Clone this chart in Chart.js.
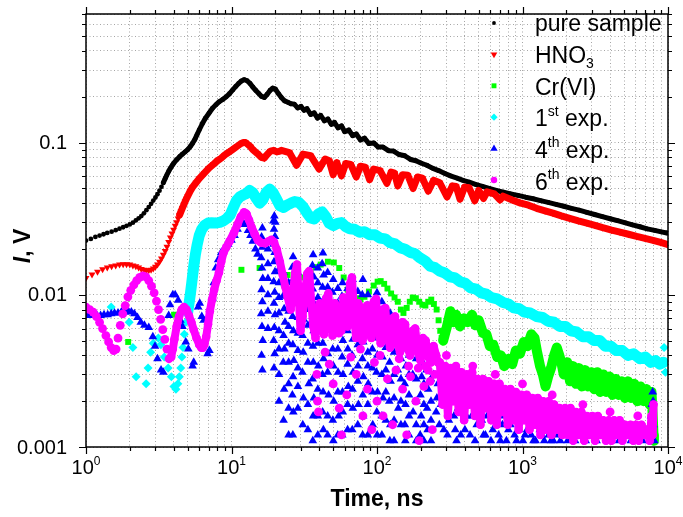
<!DOCTYPE html>
<html>
<head>
<meta charset="utf-8">
<title>Photoluminescence decay</title>
<script src="https://cdn.jsdelivr.net/npm/chart.js@4.4.1/dist/chart.umd.min.js"></script>
<style>
  html, body { margin: 0; padding: 0; background: #fff; }
  canvas { display: block; }
</style>
</head>
<body>
<canvas id="decayChart" width="683" height="517"></canvas>
<script>
// Decay curves, [time in ns, signal in V]

const pureSample = [
  [1, 0.0227], [1.08, 0.0233], [1.16, 0.0240], [1.24, 0.0245], [1.32, 0.0250], [1.4, 0.0255], [1.5, 0.0260],
  [1.6, 0.0266], [1.7, 0.0272], [1.8, 0.0278], [1.9, 0.0284], [2.0, 0.0290], [2.1, 0.0298], [2.2, 0.0308],
  [2.3, 0.0318], [2.4, 0.0329], [2.5, 0.0343], [2.6, 0.0360], [2.7, 0.0377], [2.8, 0.0396], [2.9, 0.0416],
  [3.0, 0.0436], [3.1, 0.0458], [3.2, 0.0483], [3.3, 0.0512], [3.4, 0.0545], [3.5, 0.0580], [3.6, 0.0615],
  [3.7, 0.0648], [3.8, 0.0678], [3.9, 0.0705], [4.0, 0.0730], [4.2, 0.0772], [4.4, 0.0808], [4.6, 0.0840],
  [4.8, 0.0870], [5.0, 0.0900], [5.2, 0.0940], [5.4, 0.0990], [5.6, 0.1050], [5.8, 0.1130], [6.0, 0.1210],
  [6.3, 0.1330], [6.6, 0.1440], [7.0, 0.1560], [7.4, 0.1680], [7.8, 0.1770], [8.2, 0.1850], [8.7, 0.1920],
  [9.2, 0.2000], [9.7, 0.2100], [10.2, 0.2220], [10.7, 0.2340], [11.2, 0.2450], [11.7, 0.2540], [12.2, 0.2590],
  [12.8, 0.2550], [13.4, 0.2450], [14.0, 0.2320], [14.7, 0.2200], [15.4, 0.2100], [16.1, 0.2010], [16.8, 0.1980],
  [17.6, 0.2080], [18.4, 0.2200], [19.2, 0.2280], [20.0, 0.2250], [21.0, 0.2100], [22.0, 0.1980], [23.2, 0.1880],
  [24.4, 0.1840], [25.6, 0.1800], [27, 0.1790], [28.5, 0.1690], [30, 0.1730], [31.5, 0.1630], [33, 0.1670],
  [35, 0.1530], [37, 0.1570], [39, 0.1450], [41, 0.1510], [43.5, 0.1390], [46, 0.1430], [48.5, 0.1320],
  [51, 0.1360], [54, 0.1250], [57, 0.1290], [60, 0.1180], [64, 0.1210], [68, 0.1110], [72, 0.1140],
  [77, 0.1040], [82, 0.1070], [88, 0.0985], [95, 0.0995], [102, 0.0935], [110, 0.0935], [120, 0.0885],
  [130, 0.0880], [142, 0.0835], [155, 0.0820], [170, 0.0775], [185, 0.0760], [200, 0.0735], [220, 0.0710],
  [240, 0.0680], [265, 0.0655], [290, 0.0630], [320, 0.0605], [355, 0.0585], [390, 0.0565], [430, 0.0550],
  [480, 0.0530], [530, 0.0515], [590, 0.0500], [660, 0.0485], [740, 0.0472], [830, 0.0460], [930, 0.0450],
  [1050, 0.0438], [1180, 0.0428], [1330, 0.0416], [1500, 0.0405], [1700, 0.0393], [1920, 0.0382], [2170, 0.0370],
  [2450, 0.0360], [2770, 0.0348], [3130, 0.0337], [3540, 0.0326], [4000, 0.0316], [4500, 0.0307], [5100, 0.0297],
  [5700, 0.0288], [6400, 0.0280], [7200, 0.0271], [8100, 0.0265], [9000, 0.0259], [9800, 0.0255]
];

const hno3 = [
  [1.0, 0.0129], [1.1, 0.0136], [1.2, 0.0142], [1.3, 0.0147], [1.4, 0.0151], [1.5, 0.0154], [1.6, 0.0156],
  [1.7, 0.0158], [1.8, 0.0159], [1.9, 0.0159], [2.0, 0.0158], [2.1, 0.0156], [2.2, 0.0154], [2.3, 0.0151],
  [2.4, 0.0148], [2.5, 0.0146], [2.6, 0.0145], [2.7, 0.0145], [2.8, 0.0146], [2.9, 0.0149], [3.0, 0.0153],
  [3.1, 0.0158], [3.2, 0.0165], [3.3, 0.0173], [3.4, 0.0183], [3.5, 0.0194], [3.6, 0.0207], [3.7, 0.0222],
  [3.8, 0.0238], [3.9, 0.0253], [4.0, 0.0268], [4.1, 0.0284], [4.2, 0.0300], [4.3, 0.0317], [4.4, 0.0335],
  [4.5, 0.0353], [4.6, 0.0372], [4.7, 0.0390], [4.8, 0.0410], [4.9, 0.0428], [5.0, 0.0445], [5.2, 0.0480],
  [5.4, 0.0510], [5.7, 0.0545], [6.0, 0.0580], [6.5, 0.0630], [7.0, 0.0680], [7.5, 0.0720], [8.0, 0.0760],
  [8.5, 0.0790], [9.0, 0.0830], [9.5, 0.0860], [10, 0.0890], [10.5, 0.0920], [11, 0.0950], [11.5, 0.0980],
  [12, 0.1000], [12.5, 0.1000], [13, 0.0970], [13.5, 0.0940], [14, 0.0900], [15, 0.0850], [16, 0.0800],
  [16.8, 0.0790], [17.5, 0.0830], [18.5, 0.0880], [19.5, 0.0890], [20.5, 0.0870], [21.5, 0.0880], [22, 0.0890],
  [25, 0.0860], [28, 0.0710], [31, 0.0840], [35, 0.0820], [40, 0.0670], [44, 0.0780], [47, 0.0760],
  [50, 0.0615], [53, 0.0740], [57, 0.0605], [61, 0.0730], [66, 0.0720], [72, 0.0595], [77, 0.0700],
  [83, 0.0690], [89, 0.0570], [95, 0.0670], [105, 0.0655], [117, 0.0540], [125, 0.0640], [132, 0.0630],
  [139, 0.0520], [150, 0.0615], [163, 0.0610], [177, 0.0500], [190, 0.0595], [205, 0.0585], [225, 0.0480],
  [245, 0.0565], [270, 0.0545], [303, 0.0440], [330, 0.0520], [350, 0.0515], [372, 0.0425], [400, 0.0510],
  [430, 0.0505], [470, 0.0415], [500, 0.0485], [540, 0.0430], [570, 0.0475], [640, 0.0460], [700, 0.0420],
  [735, 0.0445], [850, 0.0420], [960, 0.0402], [1100, 0.0388], [1250, 0.0370], [1430, 0.0356], [1620, 0.0344],
  [1850, 0.0330], [2110, 0.0318], [2420, 0.0306], [2770, 0.0296], [3150, 0.0286], [3560, 0.0276], [4100, 0.0266],
  [4680, 0.0258], [5350, 0.0250], [6100, 0.0242], [6950, 0.0235], [7900, 0.0228], [8900, 0.0221], [9900, 0.0214]
];

// Cr(VI): dense tail trace, plus the separate squares before it
const crTrace = [
  [285, 0.0050], [300, 0.0060], [320, 0.0078], [335, 0.0066], [350, 0.0074], [372, 0.0062], [395, 0.0070],
  [420, 0.0066], [450, 0.0074], [475, 0.0063], [500, 0.0068], [535, 0.0056], [565, 0.0055], [596, 0.0046],
  [630, 0.0047], [670, 0.0039], [710, 0.0040], [750, 0.0034], [800, 0.0038], [850, 0.0035], [900, 0.0043],
  [960, 0.0041], [1020, 0.0049], [1080, 0.0046], [1150, 0.0055], [1210, 0.0052], [1260, 0.0042], [1320, 0.0034],
  [1380, 0.0030], [1440, 0.0025], [1500, 0.0029], [1570, 0.0033], [1650, 0.0040], [1720, 0.0045], [1790, 0.0040],
  [1850, 0.0036], [1920, 0.0030], [2030, 0.0036], [2120, 0.0027], [2220, 0.0034], [2330, 0.0026], [2440, 0.0033],
  [2560, 0.0025], [2690, 0.0032], [2820, 0.0025], [2960, 0.0031], [3110, 0.0024], [3260, 0.0031], [3420, 0.0023],
  [3590, 0.0030], [3770, 0.0023], [3960, 0.0029], [4160, 0.0022], [4370, 0.0028], [4590, 0.0022], [4820, 0.0027],
  [5060, 0.0021], [5310, 0.0027], [5580, 0.0021], [5860, 0.0026], [6150, 0.0020], [6460, 0.0025], [6780, 0.0020],
  [7120, 0.0024], [7480, 0.0019], [7700, 0.0023], [7850, 0.0016], [7950, 0.0012], [8000, 0.0011]
];
const crEarly = [
  [1.95, 0.0049], [4.03, 0.0074], [11.7, 0.0146], [15.6, 0.0150], [24.3, 0.0135], [31, 0.0130], [35, 0.0142],
  [38, 0.0152], [41, 0.0158], [46, 0.0165], [50.5, 0.0163], [55, 0.0150], [59, 0.0130], [63, 0.0108],
  [67, 0.0100], [72, 0.0095], [77, 0.0093], [82, 0.0097], [88, 0.0105], [95, 0.0115], [101, 0.0122],
  [106, 0.0123], [112, 0.0118], [118, 0.0110], [125, 0.0102], [132, 0.0096], [139, 0.0090], [146, 0.0080],
  [152, 0.0076], [160, 0.0082], [168, 0.0090], [176, 0.0096], [185, 0.0095], [195, 0.0090], [205, 0.0086],
  [215, 0.0085], [225, 0.0090], [236, 0.0093], [246, 0.0087], [257, 0.0080], [265, 0.0068], [272, 0.0058],
  [278, 0.0052]
];

// 1st exp.
const exp1Trace = [
  [5.00, 0.0077], [5.12, 0.0089], [5.22, 0.0102], [5.32, 0.0118], [5.42, 0.0137], [5.53, 0.0160], [5.65, 0.0185],
  [5.80, 0.0212], [6.00, 0.0245], [6.25, 0.0270], [6.55, 0.0287], [6.90, 0.0296], [7.30, 0.0297], [7.80, 0.0296],
  [8.30, 0.0299], [8.80, 0.0306], [9.30, 0.0318], [9.80, 0.0335], [10.3, 0.0375], [10.8, 0.0415], [11.4, 0.0440],
  [12.0, 0.0452], [12.6, 0.0462], [13.3, 0.0485], [14.0, 0.0470], [14.8, 0.0430], [15.6, 0.0400], [16.4, 0.0420],
  [17.3, 0.0470], [18.3, 0.0495], [19.3, 0.0470], [20.4, 0.0425], [21.5, 0.0385], [22.8, 0.0375], [24.2, 0.0390],
  [25.6, 0.0400], [27.2, 0.0410], [29.0, 0.0405], [31.0, 0.0380], [33.0, 0.0345], [35.0, 0.0320], [37.0, 0.0315],
  [39.5, 0.0340], [42.0, 0.0350], [44.5, 0.0325], [47.0, 0.0295], [50.0, 0.0285], [53.5, 0.0295], [57.0, 0.0298],
  [61.0, 0.0280], [65.0, 0.0272], [70.0, 0.0270], [76.0, 0.0258], [82.0, 0.0260], [89.0, 0.0248], [97.0, 0.0248],
  [105, 0.0236], [114, 0.0233], [123, 0.0220], [133, 0.0216], [144, 0.0204], [156, 0.0199], [169, 0.0190],
  [183, 0.0186], [197, 0.0175], [214, 0.0167], [232, 0.0154], [250, 0.0151], [270, 0.0143], [293, 0.0139],
  [318, 0.0131], [345, 0.0129], [372, 0.0122], [405, 0.0119], [440, 0.0111], [480, 0.0109], [520, 0.0103],
  [565, 0.0101], [610, 0.0096], [670, 0.0094], [735, 0.0089], [800, 0.0087], [870, 0.0082], [950, 0.0081],
  [1030, 0.0077], [1130, 0.0076], [1250, 0.0072], [1370, 0.0071], [1500, 0.0067], [1650, 0.0066], [1800, 0.0062],
  [1970, 0.0062], [2150, 0.0058], [2350, 0.0057], [2600, 0.0053], [2850, 0.0053], [3100, 0.0050], [3400, 0.0050],
  [3700, 0.0046], [4050, 0.0046], [4400, 0.0043], [4850, 0.0043], [5300, 0.0040], [5800, 0.0041], [6400, 0.0038],
  [7000, 0.0039], [7600, 0.0036], [8200, 0.0037], [8800, 0.0035], [9300, 0.0036]
];
const exp1Loose = [
  [1.49, 0.0083], [1.98, 0.0066], [2.10, 0.0045], [2.21, 0.0029], [2.59, 0.0026], [2.67, 0.0033], [2.78, 0.0042],
  [2.90, 0.0048], [3.14, 0.0052], [3.27, 0.0047], [3.45, 0.0039], [3.67, 0.0033], [3.86, 0.0029], [4.02, 0.0025],
  [4.15, 0.0024], [4.28, 0.0026], [4.38, 0.0029], [4.48, 0.0033], [4.56, 0.0039], [4.64, 0.0045], [4.74, 0.0055],
  [4.86, 0.0066], [9400, 0.0045], [9600, 0.0031]
];

// 4th exp. (scattered, no connecting line)
const exp4 = [
  [1.00, 0.0074], [1.06, 0.0073], [1.12, 0.0073], [1.19, 0.0073], [1.26, 0.0073], [1.33, 0.0074], [1.41, 0.0074],
  [1.49, 0.0075], [1.57, 0.0076], [1.66, 0.0076], [1.75, 0.0077], [1.85, 0.0077], [1.95, 0.0078], [2.05, 0.0077],
  [2.15, 0.0075], [2.26, 0.0071], [2.38, 0.0066], [2.52, 0.0063], [2.70, 0.0061], [2.88, 0.0053], [2.98, 0.0046],
  [3.10, 0.0038], [3.28, 0.0032], [3.40, 0.0031], [3.70, 0.0073], [3.78, 0.0086], [3.95, 0.0100], [4.10, 0.0100],
  [4.30, 0.0092], [4.45, 0.0068], [4.60, 0.0062], [4.85, 0.0049], [5.05, 0.0044], [5.40, 0.0034], [5.50, 0.0036],
  [5.90, 0.0083], [6.05, 0.0088], [6.25, 0.0072], [6.45, 0.0068], [6.85, 0.0041], [7.05, 0.0043], [7.40, 0.0095],
  [7.55, 0.0120], [7.80, 0.0150], [8.10, 0.0170], [8.50, 0.0190], [9.00, 0.0205], [9.50, 0.0215], [10.0, 0.0228],
  [10.5, 0.0245], [11.0, 0.0270], [11.5, 0.0290], [12.0, 0.0300], [12.5, 0.0290], [13.0, 0.0265], [13.5, 0.0245],
  [14.0, 0.0225], [14.6, 0.0200], [15.1, 0.0185],
  [16.3, 0.0275], [16.1, 0.0240], [16.3, 0.0205], [16.0, 0.0175], [16.2, 0.0150], [16.4, 0.0128], [16.1, 0.0108],
  [16.3, 0.0090], [16.0, 0.0075], [16.2, 0.0062], [16.4, 0.0050], [16.1, 0.0040], [16.3, 0.0032],
  [17.8, 0.0200], [17.8, 0.0160], [17.8, 0.0128], [17.8, 0.0100], [17.8, 0.0078], [17.8, 0.0060],
  [19.7, 0.0330], [19.4, 0.0305], [20.0, 0.0300], [19.6, 0.0270], [19.9, 0.0242], [19.5, 0.0215], [19.8, 0.0190],
  [19.6, 0.0165], [19.9, 0.0142], [19.5, 0.0122], [19.8, 0.0104], [19.6, 0.0088], [19.9, 0.0074], [19.7, 0.0061],
  [19.5, 0.0050], [19.8, 0.0041], [19.6, 0.0033],
  [21.2, 0.0180], [21.2, 0.0148], [21.2, 0.0120], [21.2, 0.0096], [21.2, 0.0076], [21.2, 0.0058], [21.2, 0.0044],
  [21.2, 0.0030], [21.2, 0.0020],
  [22.8, 0.0140], [23.2, 0.0118], [22.6, 0.0098], [23.0, 0.0081], [23.3, 0.0066], [22.8, 0.0054], [23.1, 0.0044],
  [22.7, 0.0036], [23.0, 0.0024], [22.8, 0.0015],
  [24.7, 0.0120], [24.7, 0.0098], [24.7, 0.0078], [24.7, 0.0062], [24.7, 0.0048], [24.7, 0.0036], [24.7, 0.0026],
  [24.7, 0.0018], [24.7, 0.0012],
  [26.5, 0.0178], [26.2, 0.0152], [26.8, 0.0128], [26.4, 0.0107], [26.7, 0.0088], [26.3, 0.0072], [26.6, 0.0058],
  [26.4, 0.0047], [26.8, 0.0037], [26.5, 0.0029], [26.2, 0.0022], [26.6, 0.0017], [26.4, 0.0012],
  [28.6, 0.0140], [28.6, 0.0112], [28.6, 0.0090], [28.6, 0.0071], [28.6, 0.0056], [28.6, 0.0043], [28.6, 0.0033],
  [28.6, 0.0025], [28.6, 0.0018],
  [31.0, 0.0105], [30.6, 0.0086], [31.3, 0.0069], [30.8, 0.0054], [31.1, 0.0042], [30.7, 0.0031], [31.2, 0.0021],
  [30.9, 0.0014],
  [33.5, 0.0125], [33.5, 0.0100], [33.5, 0.0080], [33.5, 0.0063], [33.5, 0.0048], [33.5, 0.0036], [34.0, 0.0026],
  [33.5, 0.0019], [33.5, 0.0013],
  [36.4, 0.0183], [36.0, 0.0156], [36.8, 0.0131], [36.2, 0.0109], [36.6, 0.0089], [36.1, 0.0072], [36.7, 0.0058],
  [36.3, 0.0046], [36.5, 0.0036], [36.1, 0.0028], [36.8, 0.0021], [36.4, 0.0016], [36.2, 0.0011],
  [39.2, 0.0150], [39.2, 0.0120], [39.2, 0.0096], [39.2, 0.0077], [39.0, 0.0062], [39.2, 0.0048], [39.5, 0.0034],
  [39.2, 0.0024], [39.2, 0.0016], [39.2, 0.0012],
  [42.5, 0.0188], [42.0, 0.0160], [43.0, 0.0135], [42.3, 0.0112], [42.8, 0.0092], [42.1, 0.0075], [42.7, 0.0060],
  [42.4, 0.0048], [42.9, 0.0038], [42.2, 0.0030], [42.6, 0.0023], [42.3, 0.0017], [42.8, 0.0013],
  [45.8, 0.0140], [45.8, 0.0112], [45.8, 0.0090], [45.5, 0.0075], [45.8, 0.0060], [46.0, 0.0041], [45.8, 0.0031],
  [46.5, 0.0022], [45.8, 0.0016], [45.8, 0.0012],
  [50.0, 0.0126], [49.4, 0.0104], [50.5, 0.0085], [49.8, 0.0069], [50.3, 0.0055], [49.6, 0.0044], [50.2, 0.0034],
  [49.8, 0.0026], [50.4, 0.0020], [49.7, 0.0015], [50.1, 0.0011],
  [53.8, 0.0110], [53.8, 0.0088], [53.8, 0.0070], [53.5, 0.0057], [53.8, 0.0044], [54.0, 0.0031], [53.8, 0.0023],
  [54.5, 0.0016], [53.8, 0.0012],
  [58.0, 0.0120], [57.4, 0.0098], [58.6, 0.0080], [57.8, 0.0064], [58.3, 0.0050], [57.6, 0.0039], [58.4, 0.0030],
  [57.9, 0.0023], [58.2, 0.0017], [57.7, 0.0012],
  [62.8, 0.0110], [62.8, 0.0090], [62.5, 0.0072], [62.8, 0.0058], [63.0, 0.0044], [62.8, 0.0035], [63.5, 0.0025],
  [62.8, 0.0019], [62.8, 0.0013],
  [68.0, 0.0126], [67.3, 0.0102], [68.6, 0.0082], [67.8, 0.0065], [68.3, 0.0051], [67.5, 0.0040], [68.4, 0.0031],
  [67.9, 0.0024], [68.2, 0.0018], [67.6, 0.0013],
  [73.8, 0.0105], [73.8, 0.0084], [73.8, 0.0070], [73.5, 0.0060], [73.8, 0.0047], [74.0, 0.0034], [73.8, 0.0027],
  [74.5, 0.0019], [73.8, 0.0014],
  [80.0, 0.0126], [79.2, 0.0100], [80.8, 0.0080], [79.6, 0.0063], [80.4, 0.0049], [79.4, 0.0038], [80.6, 0.0029],
  [79.9, 0.0022], [80.3, 0.0016], [79.7, 0.0012],
  [86.5, 0.0100], [86.5, 0.0085], [86.0, 0.0069], [86.5, 0.0055], [86.5, 0.0042], [86.5, 0.0034], [87.0, 0.0026],
  [86.5, 0.0019], [86.5, 0.0012],
  [93.0, 0.0088], [93.0, 0.0070], [92.5, 0.0055], [93.0, 0.0044], [93.0, 0.0033], [93.0, 0.0023], [93.5, 0.0014],
  [100, 0.0103], [99, 0.0083], [101, 0.0066], [99.5, 0.0052], [100.5, 0.0040], [99.2, 0.0031], [100.8, 0.0023],
  [99.7, 0.0017], [100.3, 0.0012],
  [108, 0.0090], [108, 0.0075], [108, 0.0064], [108, 0.0050], [109, 0.0039], [108, 0.0030], [110, 0.0021],
  [108, 0.0016], [108, 0.0012],
  [115, 0.0080], [115, 0.0062], [115, 0.0045], [115, 0.0032], [115, 0.0023], [115, 0.0015],
  [123, 0.0076], [121, 0.0060], [125, 0.0047], [122, 0.0036], [124, 0.0027], [121.5, 0.0020], [123.5, 0.0014],
  [122.5, 0.0011],
  [131, 0.0070], [131, 0.0055], [131, 0.0042], [131, 0.0030], [131, 0.0021], [131, 0.0015], [131, 0.0011],
  [138, 0.0052], [139, 0.0032], [140, 0.0018],
  [146, 0.0065], [146, 0.0050], [146, 0.0038], [146, 0.0028], [146, 0.0020], [146, 0.0014],
  [156, 0.0056], [154, 0.0044], [158, 0.0034], [155, 0.0026], [157, 0.0019], [155.5, 0.0014], [156.5, 0.0011],
  [166, 0.0055], [166, 0.0040], [166, 0.0030], [166, 0.0022], [166, 0.0016], [166, 0.0012],
  [175, 0.0046], [176, 0.0030], [177, 0.0017],
  [186, 0.0050], [186, 0.0038], [186, 0.0028], [186, 0.0020], [186, 0.0014], [186, 0.0011],
  [200, 0.0050], [197, 0.0038], [203, 0.0029], [199, 0.0022], [201, 0.0016], [198, 0.0012],
  [210, 0.0045], [210, 0.0035], [210, 0.0026], [210, 0.0019], [210, 0.0014], [210, 0.0011],
  [222, 0.0042], [219, 0.0032], [225, 0.0024], [221, 0.0018], [223, 0.0013],
  [235, 0.0038], [235, 0.0028], [235, 0.0020], [235, 0.0015], [235, 0.0011],
  [245, 0.0030], [255, 0.0017], [258, 0.0021], [262, 0.0026], [268, 0.0014], [275, 0.0019], [282, 0.0027],
  [288, 0.0013], [295, 0.0019], [300, 0.0022], [305, 0.0012], [312, 0.0015], [322, 0.0024], [330, 0.0020],
  [338, 0.0016], [345, 0.0013], [352, 0.0011], [360, 0.0018], [368, 0.0026], [376, 0.0012], [385, 0.0018],
  [393, 0.0022], [402, 0.0013], [412, 0.0016], [425, 0.0023], [436, 0.0012], [448, 0.0016], [460, 0.0019],
  [472, 0.0011], [485, 0.0014], [498, 0.0021], [510, 0.0017], [525, 0.0015], [540, 0.0012], [556, 0.0012],
  [572, 0.0016], [590, 0.0019], [607, 0.0011], [625, 0.0013], [645, 0.0015], [665, 0.0017], [685, 0.0012],
  [705, 0.0011], [728, 0.0014], [750, 0.0016], [775, 0.0011], [800, 0.0013], [827, 0.0014], [855, 0.0018],
  [882, 0.0012], [910, 0.0011], [942, 0.0013], [975, 0.0015], [1007, 0.0011], [1040, 0.0012], [1075, 0.0013],
  [1110, 0.0017], [1150, 0.0012], [1190, 0.0011], [1230, 0.0011], [1270, 0.0014], [1315, 0.0013], [1360, 0.0012],
  [1410, 0.0011], [1460, 0.0016], [1515, 0.0012], [1570, 0.0011], [1630, 0.0011], [1690, 0.0013], [1755, 0.0012],
  [1820, 0.0011], [1890, 0.0012], [1960, 0.0014], [2040, 0.0011], [2120, 0.0012], [2210, 0.0013], [2300, 0.0011],
  [2400, 0.0012], [2500, 0.0013], [2610, 0.0012], [2720, 0.0011], [2840, 0.0013], [2960, 0.0012], [3090, 0.0012],
  [3230, 0.0011], [3370, 0.0012], [3520, 0.0013], [3680, 0.0012], [3850, 0.0011], [4020, 0.0011], [4200, 0.0012],
  [4400, 0.0013], [4600, 0.0011], [4820, 0.0012], [5050, 0.0012], [5290, 0.0013], [5550, 0.0011], [5800, 0.0012],
  [6100, 0.0012], [6400, 0.0013], [6700, 0.0011], [7000, 0.0012], [7300, 0.0013], [7500, 0.0011], [7650, 0.0016],
  [7700, 0.0013], [7750, 0.0019], [7800, 0.0017], [7850, 0.0023], [7900, 0.0020], [7950, 0.0014], [8050, 0.0011]
];

// 6th exp.: continuous trace (the tail is a dense band), plus the early oscillation and loose points
const exp6Trace = [
  [3.85, 0.0039], [3.95, 0.0044], [4.05, 0.0051], [4.20, 0.0062], [4.36, 0.0072], [4.55, 0.0080], [4.72, 0.0083],
  [4.90, 0.0080], [5.10, 0.0073], [5.30, 0.0066], [5.50, 0.0059], [5.75, 0.0052], [6.00, 0.0047], [6.20, 0.0045],
  [6.35, 0.0045], [6.50, 0.0047], [6.70, 0.0053], [6.90, 0.0064], [7.10, 0.0078], [7.35, 0.0093], [7.60, 0.0108],
  [7.90, 0.0124], [8.20, 0.0140], [8.50, 0.0165], [8.80, 0.0188], [9.20, 0.0205], [9.70, 0.0225], [10.4, 0.0256],
  [11.0, 0.0290], [11.6, 0.0326], [12.2, 0.0348], [12.7, 0.0340], [13.2, 0.0310], [13.7, 0.0280], [14.4, 0.0252],
  [15.2, 0.0228], [16.0, 0.0220], [17.0, 0.0218], [18.0, 0.0225], [18.8, 0.0230], [19.6, 0.0222], [20.5, 0.0198],
  [21.5, 0.0165], [22.5, 0.0135], [23.5, 0.0112], [24.3, 0.0097], [25.5, 0.0080], [26.5, 0.0105], [27.4, 0.0140],
  [28.2, 0.0158], [29.0, 0.0095], [29.8, 0.0058], [30.8, 0.0072], [32.0, 0.0105], [33.2, 0.0138], [34.2, 0.0143],
  [35.3, 0.0090], [36.5, 0.0062], [37.8, 0.0052], [39.2, 0.0080], [40.5, 0.0088], [41.8, 0.0064], [43.2, 0.0055],
  [44.8, 0.0095], [46.3, 0.0102], [47.8, 0.0066], [49.5, 0.0054], [51.3, 0.0088], [53.0, 0.0082], [54.8, 0.0056],
  [56.8, 0.0058], [58.8, 0.0096], [60.8, 0.0070], [63.0, 0.0062], [65.3, 0.0118], [67.3, 0.0130], [69.5, 0.0076],
  [71.8, 0.0052], [74.3, 0.0088], [76.8, 0.0082], [79.5, 0.0050], [82.5, 0.0058], [85.5, 0.0085], [88.5, 0.0060],
  [91.5, 0.0052], [95.0, 0.0090], [98.5, 0.0094], [102, 0.0060], [106, 0.0048], [110, 0.0080], [114, 0.0082],
  [118, 0.0054], [123, 0.0045], [128, 0.0070], [133, 0.0072], [138, 0.0048], [144, 0.0042], [150, 0.0066],
  [156, 0.0064], [162, 0.0045], [169, 0.0040], [176, 0.0058], [183, 0.0060], [191, 0.0042], [199, 0.0037],
  [207, 0.0052], [216, 0.0050], [225, 0.0039], [235, 0.0036], [245, 0.0046], [255, 0.0040], [262, 0.0036],
  [270, 0.0036], [282, 0.0019], [294, 0.0034], [307, 0.0016], [320, 0.0033], [334, 0.0020], [349, 0.0034],
  [364, 0.0017], [380, 0.0031], [397, 0.0015], [414, 0.0030], [432, 0.0019], [451, 0.0031], [471, 0.0016],
  [492, 0.0028], [514, 0.0014], [536, 0.0028], [560, 0.0018], [585, 0.0027], [611, 0.0015], [638, 0.0026],
  [666, 0.0014], [695, 0.0026], [726, 0.0017], [758, 0.0024], [792, 0.0014], [827, 0.0024], [863, 0.0015],
  [901, 0.0023], [941, 0.0013], [983, 0.0022], [1026, 0.0015], [1071, 0.0022], [1118, 0.0013], [1168, 0.0021],
  [1219, 0.0014], [1273, 0.0021], [1329, 0.0012], [1388, 0.0020], [1449, 0.0013], [1513, 0.0020], [1580, 0.0012],
  [1650, 0.0019], [1722, 0.0013], [1798, 0.0018], [1878, 0.0012], [1961, 0.0018], [2047, 0.0012], [2138, 0.0018],
  [2232, 0.0011], [2331, 0.0017], [2434, 0.0012], [2541, 0.0017], [2653, 0.0011], [2771, 0.0016], [2893, 0.0012],
  [3021, 0.0016], [3154, 0.0011], [3294, 0.0016], [3439, 0.0012], [3591, 0.0015], [3750, 0.0011], [3915, 0.0015],
  [4088, 0.0011], [4269, 0.0015], [4457, 0.0012], [4654, 0.0015], [4860, 0.0011], [5075, 0.0014], [5299, 0.0012],
  [5533, 0.0014], [5777, 0.0011], [6033, 0.0014], [6299, 0.0011], [6578, 0.0014], [6868, 0.0012], [7172, 0.0013],
  [7489, 0.0011], [7700, 0.0016], [7850, 0.0012], [7950, 0.0019]
];
const exp6Loose = [
  [1.00, 0.0083], [1.06, 0.0080], [1.12, 0.0077], [1.18, 0.0072], [1.24, 0.0066], [1.30, 0.0060], [1.37, 0.0054],
  [1.43, 0.0049], [1.49, 0.0045], [1.55, 0.0043], [1.61, 0.0044], [1.66, 0.0052], [1.72, 0.0063], [1.79, 0.0075],
  [1.86, 0.0085], [1.94, 0.0097], [2.03, 0.0107], [2.13, 0.0116], [2.23, 0.0124], [2.34, 0.0130], [2.46, 0.0133],
  [2.58, 0.0131], [2.70, 0.0124], [2.82, 0.0114], [2.94, 0.0103], [3.05, 0.0091], [3.15, 0.0080], [3.26, 0.0069],
  [3.37, 0.0059], [3.48, 0.0051], [3.60, 0.0044], [3.72, 0.0038],
  [38.6, 0.0030], [39.0, 0.0020], [39.6, 0.0017], [44, 0.0042], [47, 0.0035], [50, 0.0026], [55, 0.0018],
  [57, 0.0012], [62, 0.0022], [66, 0.0039], [72, 0.0030], [77, 0.0044], [80, 0.0016], [86, 0.0024],
  [92, 0.0013], [96, 0.0036], [100, 0.0020], [105, 0.0040], [110, 0.0016], [118, 0.0028], [128, 0.0014],
  [135, 0.0032], [142, 0.0038], [150, 0.0024], [160, 0.0012], [165, 0.0034], [170, 0.0029], [185, 0.0020],
  [192, 0.0033], [195, 0.0011], [210, 0.0025], [215, 0.0034], [225, 0.0032], [232, 0.0027], [240, 0.0013],
  [250, 0.0030],
  [300, 0.0040], [455, 0.0034], [650, 0.0030], [1000, 0.0026], [1600, 0.0022], [2600, 0.0019], [4000, 0.0017],
  [6200, 0.0016]
];

// Legend text (^{..} superscript, _{..} subscript), colours and marker shapes
const seriesNames = ['pure sample', 'HNO_{3}', 'Cr(VI)', '1^{st} exp.', '4^{th} exp.', '6^{th} exp.'];
const seriesColors = ['#000000', '#ff0000', '#00ff00', '#00ffff', '#0000ff', '#ff00ff'];
const seriesShapes = ['circle', 'triDown', 'square', 'diamond', 'triUp', 'circle'];

// Axes
const xMajorTicks = [1, 10, 100, 1000, 10000];
const xTickLabels = ['10^{0}', '10^{1}', '10^{2}', '10^{3}', '10^{4}'];
const yMajorTicks = [0.001, 0.01, 0.1];
const yTickLabels = ['0.001', '0.01', '0.1'];
const xRange = [1, 10000];
const yRange = [0.001, 0.7];

const FONT = '"Liberation Sans", Arial, Helvetica, sans-serif';

// every 1..9 multiple of each decade inside the range
function decadeTicks(majors, max) {
  const out = [];
  majors.forEach(m => {
    for (let k = 1; k <= 9; k++) {
      const v = +(m * k).toPrecision(3);
      if (v <= max * 1.0001) out.push({ value: v, major: k === 1 });
    }
  });
  return out;
}

function toXY(points) {
  return points.map(([x, y]) => ({ x, y }));
}

function series(points, color, style) {
  return Object.assign({
    data: toXY(points),
    showLine: false,
    borderColor: color,
    backgroundColor: color,
    pointBackgroundColor: color,
    pointBorderColor: color,
    pointBorderWidth: 0,
    borderJoinStyle: 'round',
    borderCapStyle: 'round'
  }, style);
}

// line only from a given time on, so the early samples stay as separate marks
function lineFrom(t0, color) {
  return { borderColor: c => (c.p0.parsed.x < t0 ? 'rgba(0,0,0,0)' : color) };
}

function textRuns(label) {
  const runs = [];
  const re = /([_^])\{([^}]*)\}/g;
  let last = 0, m;
  while ((m = re.exec(label))) {
    if (m.index > last) runs.push({ t: label.slice(last, m.index), k: '' });
    runs.push({ t: m[2], k: m[1] });
    last = re.lastIndex;
  }
  if (last < label.length) runs.push({ t: label.slice(last), k: '' });
  return runs;
}

function drawRich(ctx, label, x, y, size, align, weight) {
  const runs = textRuns(label);
  const small = Math.round(size * 0.62);
  const fontFor = r => (weight || '') + ' ' + (r.k ? small : size) + 'px ' + FONT;
  let w = 0;
  runs.forEach(r => { ctx.font = fontFor(r); r.w = ctx.measureText(r.t).width; w += r.w; });
  let cx = align === 'center' ? x - w / 2 : x;
  ctx.textAlign = 'left';
  ctx.textBaseline = 'alphabetic';
  runs.forEach(r => {
    ctx.font = fontFor(r);
    const dy = r.k === '^' ? -size * 0.47 : r.k === '_' ? size * 0.24 : 0;
    ctx.fillText(r.t, cx, y + dy);
    cx += r.w;
  });
}

function drawMarker(ctx, shape, x, y, r, color) {
  ctx.fillStyle = color;
  ctx.beginPath();
  if (shape === 'circle') {
    ctx.arc(x, y, r, 0, Math.PI * 2);
  } else if (shape === 'triDown') {
    ctx.moveTo(x - r * 0.87, y - r * 0.5); ctx.lineTo(x + r * 0.87, y - r * 0.5); ctx.lineTo(x, y + r);
  } else if (shape === 'triUp') {
    ctx.moveTo(x - r * 0.87, y + r * 0.5); ctx.lineTo(x + r * 0.87, y + r * 0.5); ctx.lineTo(x, y - r);
  } else if (shape === 'square') {
    ctx.rect(x - r * 0.72, y - r * 0.72, r * 1.44, r * 1.44);
  } else if (shape === 'diamond') {
    ctx.moveTo(x, y - r); ctx.lineTo(x + r, y); ctx.lineTo(x, y + r); ctx.lineTo(x - r, y);
  }
  ctx.closePath();
  ctx.fill();
}

// frame, outward ticks on all four sides, tick labels, axis titles and legend
const frameAndText = {
  id: 'frameAndText',
  afterDraw(chart) {
    const { ctx, chartArea: a, scales } = chart;
    const xs = scales.x, ys = scales.y;
    ctx.save();
    ctx.strokeStyle = '#000';
    ctx.lineWidth = 1.2;
    ctx.beginPath();
    xs.ticks.forEach(t => {
      const px = Math.round(xs.getPixelForValue(t.value)) + 0.5;
      const len = t.major ? 7 : 4;
      ctx.moveTo(px, a.bottom); ctx.lineTo(px, a.bottom + len);
      ctx.moveTo(px, a.top); ctx.lineTo(px, a.top - len);
    });
    ys.ticks.forEach(t => {
      const py = Math.round(ys.getPixelForValue(t.value)) + 0.5;
      const len = t.major ? 7 : 4;
      ctx.moveTo(a.left, py); ctx.lineTo(a.left - len, py);
      ctx.moveTo(a.right, py); ctx.lineTo(a.right + len, py);
    });
    ctx.stroke();
    ctx.lineWidth = 1.5;
    ctx.strokeRect(a.left, a.top, a.right - a.left, a.bottom - a.top);

    ctx.fillStyle = '#000';
    xMajorTicks.forEach((v, i) => {
      drawRich(ctx, xTickLabels[i], xs.getPixelForValue(v), a.bottom + 27, 20, 'center');
    });
    ctx.font = '20px ' + FONT;
    ctx.textAlign = 'right';
    ctx.textBaseline = 'middle';
    yMajorTicks.forEach((v, i) => {
      ctx.fillText(yTickLabels[i], a.left - 19, ys.getPixelForValue(v) + 1);
    });

    // axis titles
    ctx.font = 'bold 23px ' + FONT;
    ctx.textAlign = 'center';
    ctx.textBaseline = 'alphabetic';
    ctx.fillText('Time, ns', (a.left + a.right) / 2, 506);

    ctx.save();
    ctx.translate(30, 246);
    ctx.rotate(-Math.PI / 2);
    ctx.textAlign = 'left';
    ctx.font = 'italic bold 23px ' + FONT;
    const wI = ctx.measureText('I').width;
    ctx.font = 'bold 23px ' + FONT;
    const wRest = ctx.measureText(', V').width;
    const x0 = -(wI + wRest) / 2;
    ctx.font = 'italic bold 23px ' + FONT;
    ctx.fillText('I', x0, 0);
    ctx.font = 'bold 23px ' + FONT;
    ctx.fillText(', V', x0 + wI, 0);
    ctx.restore();

    // legend, no box
    const markerSize = [1.9, 3.8, 3.4, 3.6, 4.2, 3.2];
    seriesNames.forEach((name, i) => {
      drawMarker(ctx, seriesShapes[i], 494, 23 + 31.4 * i, markerSize[i], seriesColors[i]);
      ctx.fillStyle = '#000';
      drawRich(ctx, name, 535, 31 + 31.8 * i, 23, 'left');
    });
    ctx.restore();
  }
};

Chart.defaults.font.family = FONT;

const [cBlack, cRed, cGreen, cCyan, cBlue, cMagenta] = seriesColors;

// first dataset is drawn on top
const datasets = [
  series(exp6Trace, cMagenta, { showLine: true, borderWidth: 8, pointStyle: 'circle', pointRadius: 4.3 }),
  series(exp6Loose, cMagenta, { pointStyle: 'circle', pointRadius: 4.4 }),
  series(exp4, cBlue, { pointStyle: 'triangle', pointRadius: 5 }),
  series(exp1Trace, cCyan, { showLine: true, borderWidth: 11, pointStyle: 'rectRot', pointRadius: 4.5 }),
  series(exp1Loose, cCyan, { pointStyle: 'rectRot', pointRadius: 4.5 }),
  series(crTrace, cGreen, { showLine: true, borderWidth: 10, pointStyle: 'rect', pointRadius: 4.2 }),
  series(crEarly, cGreen, { pointStyle: 'rect', pointRadius: 4.2 }),
  series(hno3, cRed, { showLine: true, borderWidth: 7, pointStyle: 'triangle', pointRotation: 180, pointRadius: 4, segment: lineFrom(4.4, cRed) }),
  series(pureSample, cBlack, { showLine: true, borderWidth: 5, pointStyle: 'circle', pointRadius: 2.4, segment: lineFrom(3.4, cBlack) })
];

new Chart(document.getElementById('decayChart'), {
  type: 'scatter',
  data: { datasets },
  options: {
    responsive: false,
    devicePixelRatio: 1,
    animation: false,
    events: [],
    layout: { padding: { left: 86, top: 14, right: 15, bottom: 70 } },
    plugins: { legend: { display: false }, tooltip: { enabled: false } },
    scales: {
      x: {
        type: 'logarithmic',
        min: xRange[0],
        max: xRange[1],
        afterBuildTicks: s => { s.ticks = decadeTicks(xMajorTicks, xRange[1]); },
        ticks: { display: false },
        grid: { color: '#a6a6a6', lineWidth: 1, drawTicks: false },
        border: { display: false, dash: [1, 2.5] }
      },
      y: {
        type: 'logarithmic',
        min: yRange[0],
        max: yRange[1],
        afterBuildTicks: s => { s.ticks = decadeTicks(yMajorTicks, yRange[1]); },
        ticks: { display: false },
        grid: { color: '#a6a6a6', lineWidth: 1, drawTicks: false },
        border: { display: false, dash: [1, 2.5] }
      }
    }
  },
  plugins: [frameAndText]
});
</script>
</body>
</html>
